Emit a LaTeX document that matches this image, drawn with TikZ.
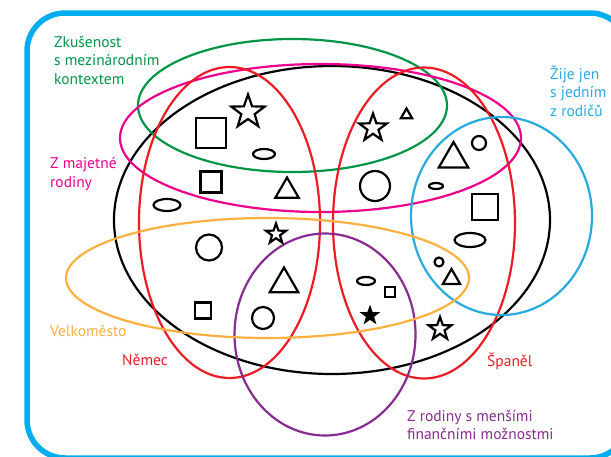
\documentclass[tikz,border=0pt]{standalone}
\usepackage{fontspec}
\setmainfont{PT Sans}
\usepackage{xcolor}
\definecolor{framecyan}{RGB}{0,174,239}
\definecolor{grpgreen}{RGB}{0,150,70}
\definecolor{grppink}{RGB}{236,0,140}
\definecolor{grpred}{RGB}{237,28,36}
\definecolor{grporange}{RGB}{251,176,64}
\definecolor{grppurple}{RGB}{135,45,145}
\definecolor{grpblue}{RGB}{40,170,225}
\usepackage{tikz}
\usetikzlibrary{shapes,positioning}

\begin{document}
\begin{tikzpicture}[x=1pt, y=-1pt,
    grp/.style={ellipse, draw=#1, line width=2.2pt, inner sep=0pt},
    fig/.style={draw=black, line width=2.2pt, inner sep=0pt},
    sq/.style={fig, rectangle, minimum size=#1},
    circ/.style={fig, circle, minimum size=#1},
    oval/.style 2 args={fig, ellipse, minimum width=#1, minimum height=#2},
    tri/.style={fig, regular polygon, regular polygon sides=3, minimum size=#1},
    starf/.style={fig, star, star points=5, star point ratio=2.5, minimum size=#1},
    lab/.style={text=#1, align=left, anchor=base west, inner sep=0pt, font=\fontsize{15.5}{18.5}\selectfont}]
    \useasboundingbox (0,0) rectangle (611,456);
    \clip (0,0) rectangle (611,456);

    % frame
    \draw[framecyan, line width=5.5pt, rounded corners=38pt] (27,13) rectangle (628,458);

    % groups
    \node[grp=black, minimum width=436pt, minimum height=308pt] (all) at (332,220) {};
    \node[grp=grpgreen, minimum width=309pt, minimum height=133pt] (abroad) at (292.5,105.5) {};
    \node[grp=grppink, minimum width=401pt, minimum height=148pt] (rich) at (320.5,138) {};
    \node[grp=grpred, minimum width=181pt, minimum height=311pt] (german) at (229.5,222.5) {};
    \node[grp=grpred, minimum width=182pt, minimum height=311pt] (spanish) at (424,223) {};
    \node[grp=grpblue, minimum width=181pt, minimum height=198pt] (single) at (501.5,216) {};
    \node[grp=grppurple, minimum width=181pt, minimum height=202pt] (poor) at (325,334.5) {};
    \node[grp=grporange, minimum width=403pt, minimum height=120pt] (city) at (267.5,278) {};

    % pupils, left
    \node[sq=30pt] (s1) at (211,133) {};
    \node[starf=35pt] (h1) at (248,112) {};
    \node[oval={22pt}{10pt}] (o1) at (264,154) {};
    \node[sq=21pt] (s2) at (211,182) {};
    \node[tri=27pt] (t1) at (287,191) {};
    \node[oval={27pt}{12pt}] (o2) at (167,205) {};
    \node[starf=21pt] (h2) at (276,234) {};
    \node[circ=26pt] (c1) at (209,247.5) {};
    \node[tri=33pt] (t2) at (284,284) {};
    \node[sq=16pt] (s3) at (203,310.5) {};
    \node[circ=22pt] (c2) at (263,318) {};

    % pupils, right
    \node[starf=29pt] (h3) at (373,128) {};
    \node[tri=13pt] (t3) at (406.5,115) {};
    \node[circ=30pt] (c3) at (375,186) {};
    \node[tri=34pt] (t4) at (453.5,159) {};
    \node[circ=14pt] (c4) at (479,143) {};
    \node[oval={14pt}{6pt}] (o3) at (436,186) {};
    \node[sq=26pt] (s4) at (485,207) {};
    \node[oval={31pt}{14pt}] (o4) at (470,240) {};
    \node[circ=9pt] (c5) at (439,262) {};
    \node[tri=20pt] (t5) at (451.5,279) {};
    \node[starf=24pt] (h4) at (440,329) {};
    \node[oval={18pt}{8pt}] (o5) at (366,281) {};
    \node[sq=10pt] (s5) at (390,292) {};
    \node[starf=15pt, fill=black] (h5) at (370,315.5) {};

    % labels (base = last line)
    \node[lab=grpgreen] (labroad) at (54,84) {Zkušenost\\s mezinárodním\\kontextem};
    \node[lab=grppink] (lrich) at (50,187) {Z majetné\\rodiny};
    \node[lab=grporange] (lcity) at (50,336.5) {Velkoměsto};
    \node[lab=grpred] (lgerman) at (122,365) {Němec};
    \node[lab=grpred] (lspanish) at (487,366.5) {Španěl};
    \node[lab=grpblue] (lsingle) at (550,116) {Žije jen\\s jedním\\z rodičů};
    \node[lab=grppurple] (lpoor) at (407,439.5) {Z rodiny s menšími\\finančními možnostmi};
\end{tikzpicture}
\end{document}
